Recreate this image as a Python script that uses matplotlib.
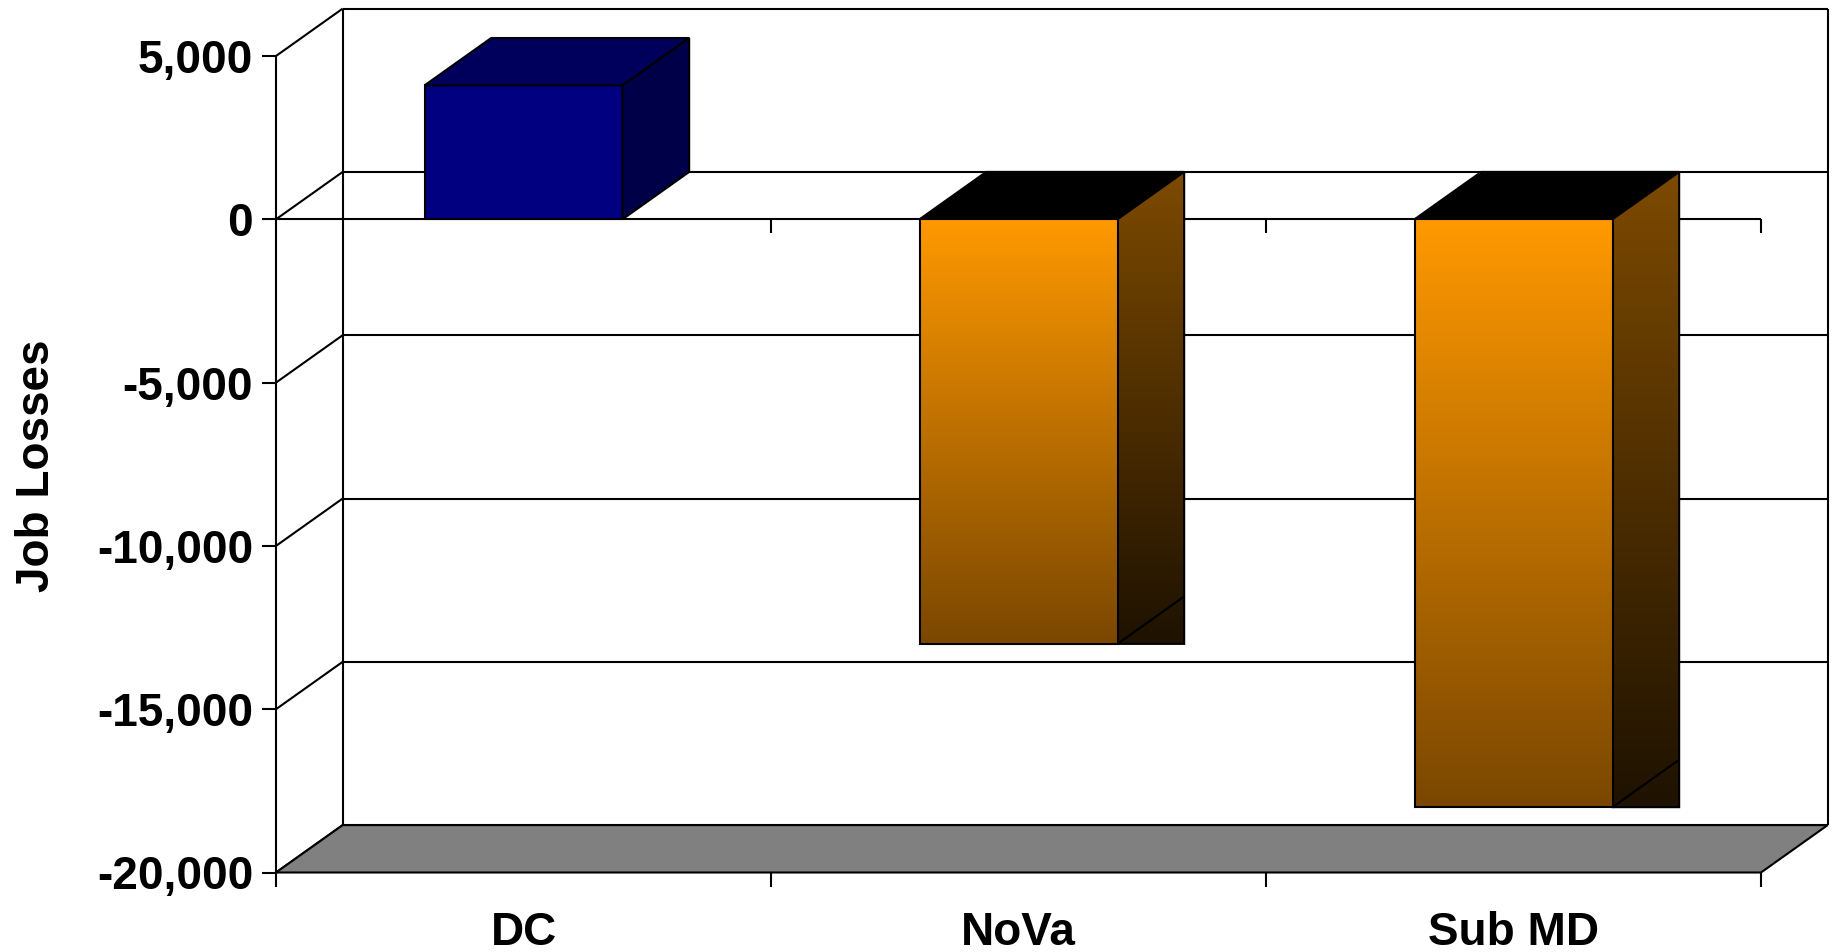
import numpy as np
import matplotlib
matplotlib.use("Agg")
import matplotlib.pyplot as plt
from matplotlib.patches import Polygon
from matplotlib.colors import to_rgb
from matplotlib.ticker import FuncFormatter

# ---- data ----
categories = ["DC", "NoVa", "Sub MD"]
job_losses = [4100, -13000, -18000]
y_ticks = [-20000, -15000, -10000, -5000, 0, 5000]
y_label = "Job Losses"

# ---- style ----
plt.rcParams['font.family'] = ['Liberation Sans', 'DejaVu Sans']
FS = 33
LW = 1.5
DX, DY = 0.1347, 1451          # 3-D depth offset in data units
BAR_W = 0.4
YMIN, YMAX = -20000, 5000
XMIN, XMAX = -0.5, 2.5

fig = plt.figure(figsize=(18.35, 9.52), dpi=100)
ax = fig.add_axes([276/1835, 1-872.5/952, (1761-276)/1835, (872.5-56)/952])
ax.set_facecolor('none')

def line(xs, ys, z=1, lw=LW, color='black'):
    ax.plot(xs, ys, color=color, lw=lw, zorder=z, clip_on=False, solid_capstyle='butt')

def poly(verts, fc, z, lw=LW):
    ax.add_patch(Polygon(verts, closed=True, facecolor=fc, edgecolor='black',
                         lw=lw, zorder=z, clip_on=False, joinstyle='miter'))

def grad_poly(verts, c_top, c_bot, y_top, y_bot, z):
    xs = [v[0] for v in verts]
    t = np.linspace(0, 1, 256)[:, None]
    top = np.array(to_rgb(c_top)); bot = np.array(to_rgb(c_bot))
    img = (top * (1 - t) + bot * t)[:, None, :]
    im = ax.imshow(img, extent=(min(xs), max(xs), y_bot, y_top), origin='upper',
                   aspect='auto', zorder=z, interpolation='bilinear')
    clip = Polygon(verts, closed=True, transform=ax.transData)
    im.set_clip_path(clip)
    ax.add_patch(Polygon(verts, closed=True, facecolor='none', edgecolor='black',
                         lw=LW, zorder=z + 0.1, clip_on=False))

# back wall gridlines and edges
for v in y_ticks:
    line([XMIN + DX, XMAX + DX], [v + DY, v + DY], z=1)
    line([XMIN, XMIN + DX], [v, v + DY], z=1)
line([XMIN + DX, XMIN + DX], [YMIN + DY, YMAX + DY], z=1)
line([XMAX + DX, XMAX + DX], [YMIN + DY, YMAX + DY], z=1)

# floor
poly([(XMIN, YMIN), (XMAX, YMIN), (XMAX + DX, YMIN + DY), (XMIN + DX, YMIN + DY)],
     '#808080', z=2)

# front zero line with small ticks
line([XMIN, XMAX], [0, 0], z=3)
tick_len = 14 * (YMAX - YMIN) / 816.5
for xb in [0.5, 1.5, 2.5]:
    line([xb, xb], [0, -tick_len], z=3)

# bars
for i, v in enumerate(job_losses):
    x0, x1 = i - BAR_W / 2, i + BAR_W / 2
    if v >= 0:
        poly([(x0, 0), (x1, 0), (x1, v), (x0, v)], '#000080', z=5)
        poly([(x0, v), (x1, v), (x1 + DX, v + DY), (x0 + DX, v + DY)], '#00005C', z=5)
        poly([(x1, 0), (x1 + DX, DY), (x1 + DX, v + DY), (x1, v)], '#000048', z=5)
    else:
        # top (black)
        poly([(x0, 0), (x1, 0), (x1 + DX, DY), (x0 + DX, DY)], 'black', z=5)
        # side
        grad_poly([(x1, 0), (x1 + DX, DY), (x1 + DX, v), (x1, v)],
                  '#7D4A00', '#1E1200', DY, v, z=5)
        line([x1, x1 + DX], [v, v + DY], z=6)
        # front
        grad_poly([(x0, 0), (x1, 0), (x1, v), (x0, v)],
                  '#FF9900', '#7A4700', 0, v, z=7)

ax.set_xlim(XMIN, XMAX)
ax.set_ylim(YMIN, YMAX)

for s in ['top', 'right', 'bottom']:
    ax.spines[s].set_visible(False)
ax.spines['left'].set_linewidth(LW)
ax.spines['left'].set_zorder(8)

ax.set_yticks(y_ticks)
ax.yaxis.set_major_formatter(FuncFormatter(lambda v, p: f"{v:,.0f}"))
ax.tick_params(axis='y', length=10, width=LW, pad=6.5, labelsize=FS)
for lab in ax.get_yticklabels():
    lab.set_fontweight('bold')

ax.set_xticks(range(len(categories)))
ax.set_xticklabels(categories, fontsize=FS, fontweight='bold')
ax.set_xticks([XMIN, 0.5, 1.5, XMAX], minor=True)
ax.tick_params(axis='x', which='major', length=0, pad=28)
ax.tick_params(axis='x', which='minor', length=10, width=LW)

fig.text(37/1835, 1 - 466/952, y_label, rotation=90, ha='center', va='center',
         fontsize=FS, fontweight='bold')

fig.savefig("out.png", dpi=100, facecolor='white')
